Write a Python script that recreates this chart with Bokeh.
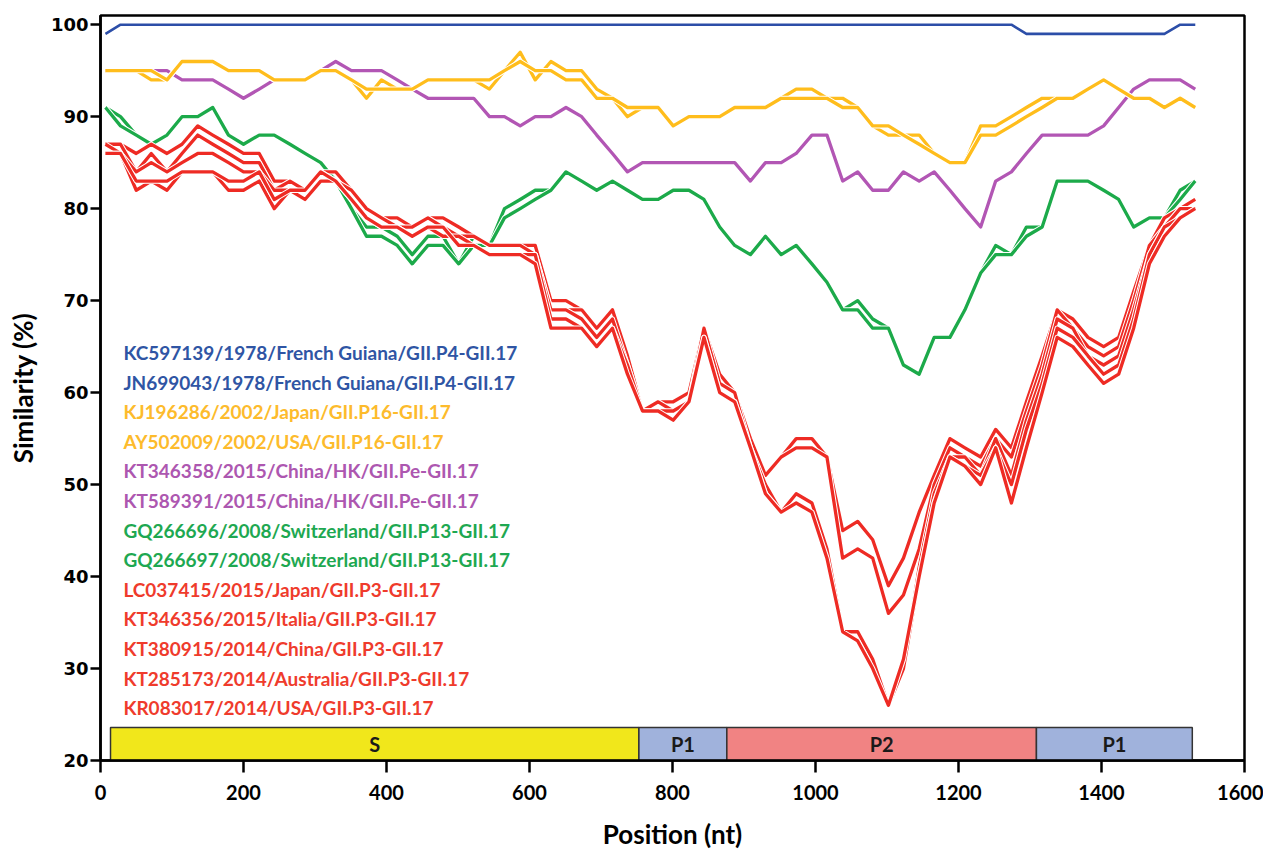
from bokeh.plotting import figure
from bokeh.models import Range1d, FixedTicker
from bokeh.embed import file_html
from bokeh.resources import INLINE
from bokeh.core.properties import value

# sliding-window positions (nt)
positions = [round(7 + 21.47 * k) for k in range(72)]

blue_1 = [99, 100, 100, 100, 100, 100, 100, 100, 100, 100,
          100, 100, 100, 100, 100, 100, 100, 100, 100, 100,
          100, 100, 100, 100, 100, 100, 100, 100, 100, 100,
          100, 100, 100, 100, 100, 100, 100, 100, 100, 100,
          100, 100, 100, 100, 100, 100, 100, 100, 100, 100,
          100, 100, 100, 100, 100, 100, 100, 100, 100, 100,
          99, 99, 99, 99, 99, 99, 99, 99, 99, 99,
          100, 100]
blue_2 = list(blue_1)

yellow_1 = [95, 95, 95, 94, 94, 96, 96, 96, 95, 95,
            95, 94, 94, 94, 95, 95, 94, 92, 94, 93,
            93, 94, 94, 94, 94, 93, 95, 97, 94, 96,
            95, 95, 93, 92, 90, 91, 91, 89, 90, 90,
            90, 91, 91, 91, 92, 93, 93, 92, 92, 91,
            89, 88, 88, 88, 86, 85, 85, 89, 89, 90,
            91, 92, 92, 92, 93, 94, 93, 92, 92, 91,
            92, 91]
yellow_2 = [95, 95, 95, 95, 94, 96, 96, 96, 95, 95,
            95, 94, 94, 94, 95, 95, 94, 93, 93, 93,
            93, 94, 94, 94, 94, 94, 95, 96, 95, 95,
            94, 94, 92, 92, 91, 91, 91, 89, 90, 90,
            90, 91, 91, 91, 92, 92, 92, 92, 91, 91,
            89, 89, 88, 87, 86, 85, 85, 88, 88, 89,
            90, 91, 92, 92, 93, 94, 93, 92, 92, 91,
            92, 91]

purple_1 = [95, 95, 95, 95, 95, 94, 94, 94, 93, 92,
            93, 94, 94, 94, 95, 96, 95, 95, 95, 94,
            93, 92, 92, 92, 92, 90, 90, 89, 90, 90,
            91, 90, 88, 86, 84, 85, 85, 85, 85, 85,
            85, 85, 83, 85, 85, 86, 88, 88, 83, 84,
            82, 82, 84, 83, 84, 82, 80, 78, 83, 84,
            86, 88, 88, 88, 88, 89, 91, 93, 94, 94,
            94, 93]
purple_2 = list(purple_1)

green_1 = [91, 90, 88, 87, 88, 90, 90, 91, 88, 87,
           88, 88, 87, 86, 85, 83, 80, 78, 78, 77,
           75, 77, 77, 74, 77, 76, 80, 81, 82, 82,
           84, 83, 82, 83, 82, 81, 81, 82, 82, 81,
           78, 76, 75, 77, 75, 76, 74, 72, 69, 70,
           68, 67, 63, 62, 66, 66, 69, 73, 76, 75,
           78, 78, 83, 83, 83, 82, 81, 78, 79, 79,
           82, 83]
green_2 = [91, 89, 88, 87, 88, 90, 90, 91, 88, 87,
           88, 88, 87, 86, 85, 83, 80, 77, 77, 76,
           74, 76, 76, 74, 76, 76, 79, 80, 81, 82,
           84, 83, 82, 83, 82, 81, 81, 82, 82, 81,
           78, 76, 75, 77, 75, 76, 74, 72, 69, 69,
           67, 67, 63, 62, 66, 66, 69, 73, 75, 75,
           77, 78, 83, 83, 83, 82, 81, 78, 79, 79,
           81, 83]

red_1 = [87, 87, 86, 87, 86, 87, 89, 88, 87, 86, 86,
         83, 83, 82, 84, 84, 82, 80, 79, 79, 78, 79, 79, 78, 77, 76, 76, 76, 76,
         70, 70, 69, 67, 69, 64, 58, 59, 59, 60, 67, 62, 60, 55, 51, 53, 55, 55, 53, 45, 46, 44, 39, 42,
         47, 51, 55, 54, 53, 56, 54, 59, 64, 69, 68, 66, 65, 66, 71, 76, 79, 80, 81]
red_2 = [87, 87, 84, 86, 84, 86, 88, 87, 86, 85, 85,
         82, 83, 82, 84, 83, 82, 80, 79, 78, 78, 79, 78, 77, 77, 76, 76, 76, 75,
         69, 69, 69, 67, 69, 64, 58, 59, 59, 60, 67, 62, 60, 55, 51, 53, 54, 54, 53, 42, 43, 42, 36, 38,
         43, 50, 54, 53, 52, 55, 53, 58, 63, 69, 67, 65, 64, 65, 70, 76, 78, 80, 81]
red_3 = [87, 86, 84, 85, 84, 85, 86, 86, 85, 84, 84,
         82, 82, 81, 83, 83, 81, 79, 78, 78, 77, 78, 78, 77, 76, 75, 75, 75, 75,
         69, 69, 68, 66, 68, 63, 58, 59, 58, 59, 67, 61, 60, 54, 50, 47, 49, 48, 43, 34, 34, 31, 26, 30,
         41, 49, 53, 53, 51, 55, 51, 57, 62, 68, 67, 64, 63, 64, 69, 75, 78, 80, 80]
red_4 = [86, 86, 82, 83, 82, 84, 84, 84, 82, 82, 83,
         80, 82, 81, 83, 83, 81, 79, 78, 78, 77, 78, 77, 77, 76, 75, 75, 75, 75,
         68, 68, 67, 65, 67, 63, 58, 58, 58, 59, 66, 60, 59, 54, 49, 47, 49, 48, 43, 34, 34, 31, 26, 30,
         40, 48, 53, 52, 51, 54, 50, 56, 61, 67, 66, 64, 62, 63, 68, 75, 78, 79, 80]
red_5 = [86, 86, 83, 83, 83, 84, 84, 84, 83, 83, 84,
         81, 82, 82, 84, 83, 81, 79, 78, 78, 77, 78, 78, 76, 76, 75, 75, 75, 74,
         67, 67, 67, 65, 67, 62, 58, 58, 57, 59, 66, 60, 59, 54, 49, 47, 48, 47, 42, 34, 33, 30, 26, 31,
         40, 48, 53, 52, 50, 54, 48, 54, 60, 66, 65, 63, 61, 62, 67, 74, 77, 79, 80]

strain_labels = [
    "KC597139/1978/French Guiana/GII.P4-GII.17",
    "JN699043/1978/French Guiana/GII.P4-GII.17",
    "KJ196286/2002/Japan/GII.P16-GII.17",
    "AY502009/2002/USA/GII.P16-GII.17",
    "KT346358/2015/China/HK/GII.Pe-GII.17",
    "KT589391/2015/China/HK/GII.Pe-GII.17",
    "GQ266696/2008/Switzerland/GII.P13-GII.17",
    "GQ266697/2008/Switzerland/GII.P13-GII.17",
    "LC037415/2015/Japan/GII.P3-GII.17",
    "KT346356/2015/Italia/GII.P3-GII.17",
    "KT380915/2014/China/GII.P3-GII.17",
    "KT285173/2014/Australia/GII.P3-GII.17",
    "KR083017/2014/USA/GII.P3-GII.17",
]

region_names = ["S", "P1", "P2", "P1"]
region_start = [14, 753, 876, 1309]
region_end = [753, 876, 1309, 1527]

x_ticks = [0, 200, 400, 600, 800, 1000, 1200, 1400, 1600]
y_ticks = [20, 30, 40, 50, 60, 70, 80, 90, 100]

BLUE = "#2c4ea8"
YELLOW = "#ffbd1c"
PURPLE = "#b256b4"
GREEN = "#1caa4a"
RED = "#ee2b24"

series = [
    (purple_1, PURPLE), (purple_2, PURPLE),
    (yellow_1, YELLOW), (yellow_2, YELLOW),
    (blue_1, BLUE), (blue_2, BLUE),
    (green_1, GREEN), (green_2, GREEN),
    (red_1, RED), (red_2, RED), (red_3, RED), (red_4, RED), (red_5, RED),
]
label_colors = ["#2f55a4", "#2f55a4", "#fdbb2c", "#fdbb2c", "#ad57b0", "#ad57b0",
                "#1ea851", "#1ea851", "#ef3b2c", "#ef3b2c", "#ef3b2c", "#ef3b2c", "#ef3b2c"]

p = figure(width=1263, height=852, output_backend="svg", toolbar_location=None,
           x_range=Range1d(0, 1600), y_range=Range1d(20, 101),
           min_border_left=100, min_border_right=19, min_border_top=15, min_border_bottom=92)
p.grid.visible = False
p.background_fill_color = "white"
p.border_fill_color = "white"
p.outline_line_color = "black"
p.outline_line_width = 2.5

# gene regions
p.quad(left=region_start, right=region_end, bottom=20, top=23.6,
       fill_color=["#f1e71b", "#a0b2dc", "#f18383", "#a0b2dc"],
       line_color="#333333", line_width=1.5)
p.text(x=[(a + b) / 2 for a, b in zip(region_start, region_end)], y=[21.8] * 4,
       text=region_names, text_align="center", text_baseline="middle",
       text_font=value("Lato"), text_font_style="bold", text_font_size="20px",
       text_color="#1a1a1a")

for vals, col in series:
    w = 2.6 if col == BLUE else 3.3
    p.line(positions, vals, line_color="white", line_width=w + 2, line_join="round")
    p.line(positions, vals, line_color=col, line_width=w, line_join="round")

legend_y = [64.35 - 3.217 * i for i in range(len(strain_labels))]
p.text(x=[32] * len(strain_labels), y=legend_y, text=strain_labels,
       text_color=label_colors, text_align="left", text_baseline="middle",
       text_font=value("Lato"), text_font_style="bold", text_font_size="19px")

for ax in (p.xaxis[0], p.yaxis[0]):
    ax.axis_line_width = 2.5
    ax.axis_line_color = "black"
    ax.major_tick_line_width = 2.5
    ax.major_tick_line_color = "black"
    ax.major_tick_in = 0
    ax.minor_tick_line_color = None
    ax.axis_label_text_font = "Lato"
    ax.axis_label_text_font_style = "bold"
    ax.axis_label_text_font_size = "26px"
    ax.axis_label_text_color = "black"

p.xaxis.ticker = FixedTicker(ticks=x_ticks)
p.yaxis.ticker = FixedTicker(ticks=y_ticks)
p.xaxis.major_tick_out = 12
p.yaxis.major_tick_out = 10
p.xaxis.major_label_text_font = "Lato"
p.xaxis.major_label_text_font_style = "bold"
p.xaxis.major_label_text_font_size = "20px"
p.xaxis.major_label_standoff = 12
p.yaxis.major_label_text_font = "DejaVu Sans"
p.yaxis.major_label_text_font_style = "bold"
p.yaxis.major_label_text_font_size = "18px"
p.yaxis.major_label_standoff = 2
p.xaxis.major_label_text_color = "black"
p.yaxis.major_label_text_color = "black"
p.xaxis.axis_label = "Position (nt)"
p.yaxis.axis_label = "Similarity (%)"
p.xaxis.axis_label_standoff = 15
p.yaxis.axis_label_standoff = 9

open("out.html", "w").write(file_html(p, INLINE))
